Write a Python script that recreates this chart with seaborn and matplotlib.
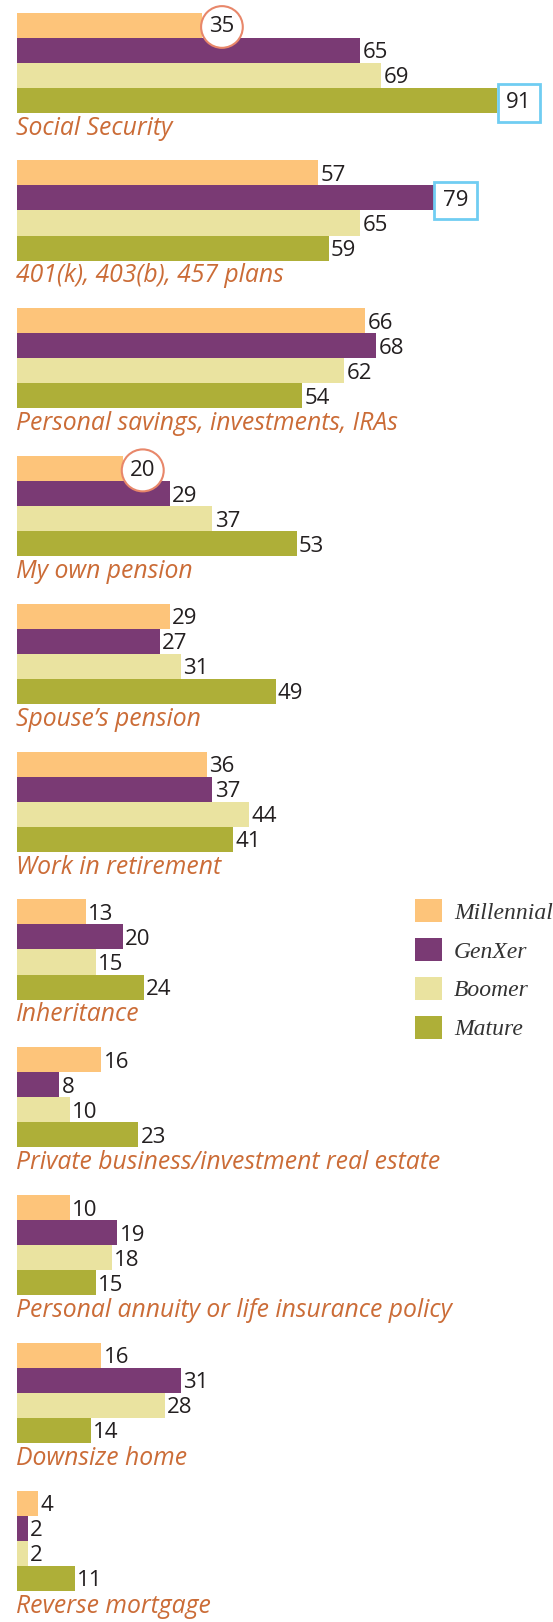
import matplotlib
matplotlib.use("Agg")
import matplotlib.pyplot as plt
from matplotlib.font_manager import FontProperties
import seaborn as sns
import pandas as pd

# Data
categories = [
    "Social Security",
    "401(k), 403(b), 457 plans",
    "Personal savings, investments, IRAs",
    "My own pension",
    "Spouse\u2019s pension",
    "Work in retirement",
    "Inheritance",
    "Private business/investment real estate",
    "Personal annuity or life insurance policy",
    "Downsize home",
    "Reverse mortgage",
]
generations = ["Millennial", "GenXer", "Boomer", "Mature"]
millennial = [35, 57, 66, 20, 29, 36, 13, 16, 10, 16, 4]
genxer = [65, 79, 68, 29, 27, 37, 20, 8, 19, 31, 2]
boomer = [69, 65, 62, 37, 31, 44, 15, 10, 18, 28, 2]
mature = [91, 59, 54, 53, 49, 41, 24, 23, 15, 14, 11]
palette = ["#FDC47A", "#7A3A74", "#EAE3A0", "#AEAF38"]

# highlighted values
circled = [("Millennial", "Social Security"), ("Millennial", "My own pension")]
boxed = [("Mature", "Social Security"), ("GenXer", "401(k), 403(b), 457 plans")]

label_color = "#CB6C37"
value_color = "#231F20"


def main():
    df = pd.DataFrame({
        "category": categories * len(generations),
        "generation": [g for g in generations for _ in categories],
        "value": millennial + genxer + boomer + mature,
    })

    fig = plt.figure(figsize=(5.53, 16.22), dpi=100)
    ax = fig.add_axes([0, 0, 1, 1])
    sns.barplot(data=df, y="category", x="value", hue="generation",
                hue_order=generations, palette=palette, orient="h",
                width=0.677, saturation=1, linewidth=0, ax=ax)

    ax.set_xlim(-17 / 5.28, (553 - 17) / 5.28)
    ax.set_ylim(10.5501, -0.4242)
    ax.axis("off")

    num_font = dict(family="Open Sans", size=16, color=value_color)

    # value labels
    for gen, cont in zip(generations, ax.containers):
        for cat, bar in zip(categories, cont):
            v = bar.get_width()
            yc = bar.get_y() + bar.get_height() / 2
            if (gen, cat) in circled:
                ax.annotate(f"{v:.0f}", (v, yc), xytext=(14.5, 0.5),
                            textcoords="offset points", ha="center",
                            va="center_baseline", **num_font,
                            bbox=dict(boxstyle="circle,pad=0.37", fc="white",
                                      ec="#E8876A", lw=1.5))
            elif (gen, cat) in boxed:
                ax.annotate(f"{v:.0f}", (v, yc), xytext=(15.5, 0),
                            textcoords="offset points", ha="center",
                            va="center_baseline", **num_font,
                            bbox=dict(boxstyle="square,pad=0.38", fc="white",
                                      ec="#70CDF2", lw=2))
            else:
                ax.annotate(f"{v:.0f}", (v, yc), xytext=(1.6, 0),
                            textcoords="offset points", ha="left",
                            va="center_baseline", **num_font)

    # category labels under each group
    for i, cat in enumerate(categories):
        ax.text(-0.19, i + 0.487, cat, ha="left", va="baseline",
                family="Open Sans", style="italic", size=17.8,
                color=label_color)

    handles, labels = ax.get_legend_handles_labels()
    ax.legend(handles, labels, loc="upper left",
              bbox_to_anchor=(415 / 553, 1 - 899 / 1622),
              bbox_transform=fig.transFigure, frameon=False,
              borderpad=0, borderaxespad=0, handlelength=1.15,
              handleheight=1.15, handletextpad=0.5, labelspacing=0.6,
              prop=FontProperties(family="Liberation Serif", style="italic",
                                  size=17),
              labelcolor="#333333")

    fig.savefig("out.png", dpi=100)
    plt.close(fig)


if __name__ == "__main__":
    main()
